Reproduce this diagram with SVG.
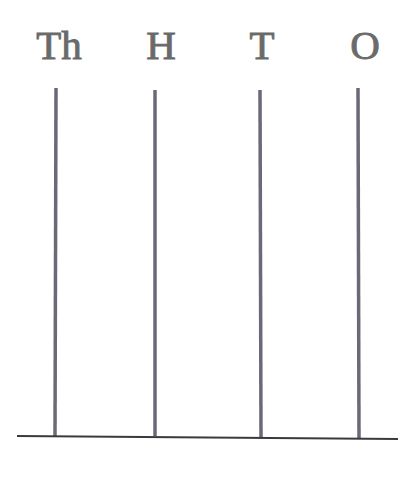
<svg xmlns="http://www.w3.org/2000/svg" width="420" height="488" viewBox="0 0 420 488">
<style>
.lbl{font-family:"Liberation Serif","Times New Roman",serif;font-size:41px;fill:#6a6a6a;stroke:#6a6a6a;stroke-width:0.9;text-anchor:middle}
.rod{stroke:#6c6878;stroke-width:3.5;stroke-linecap:butt}
.base{stroke:#3a3a3a;stroke-width:2}
</style>
<rect width="420" height="488" fill="#ffffff"/>
<g id="labels">
<text class="lbl" x="59" y="59">Th</text>
<text class="lbl" x="161" y="59">H</text>
<text class="lbl" x="262" y="59">T</text>
<text class="lbl" x="365" y="59">O</text>
</g>
<g id="connectors">
<line class="rod" x1="56" y1="88" x2="55" y2="436"/>
<line class="rod" x1="155" y1="90" x2="155" y2="436"/>
<line class="rod" x1="260" y1="90" x2="261" y2="437"/>
<line class="rod" x1="358" y1="88" x2="359" y2="438"/>
<line class="base" x1="17" y1="436" x2="398" y2="439"/>
</g>
</svg>
